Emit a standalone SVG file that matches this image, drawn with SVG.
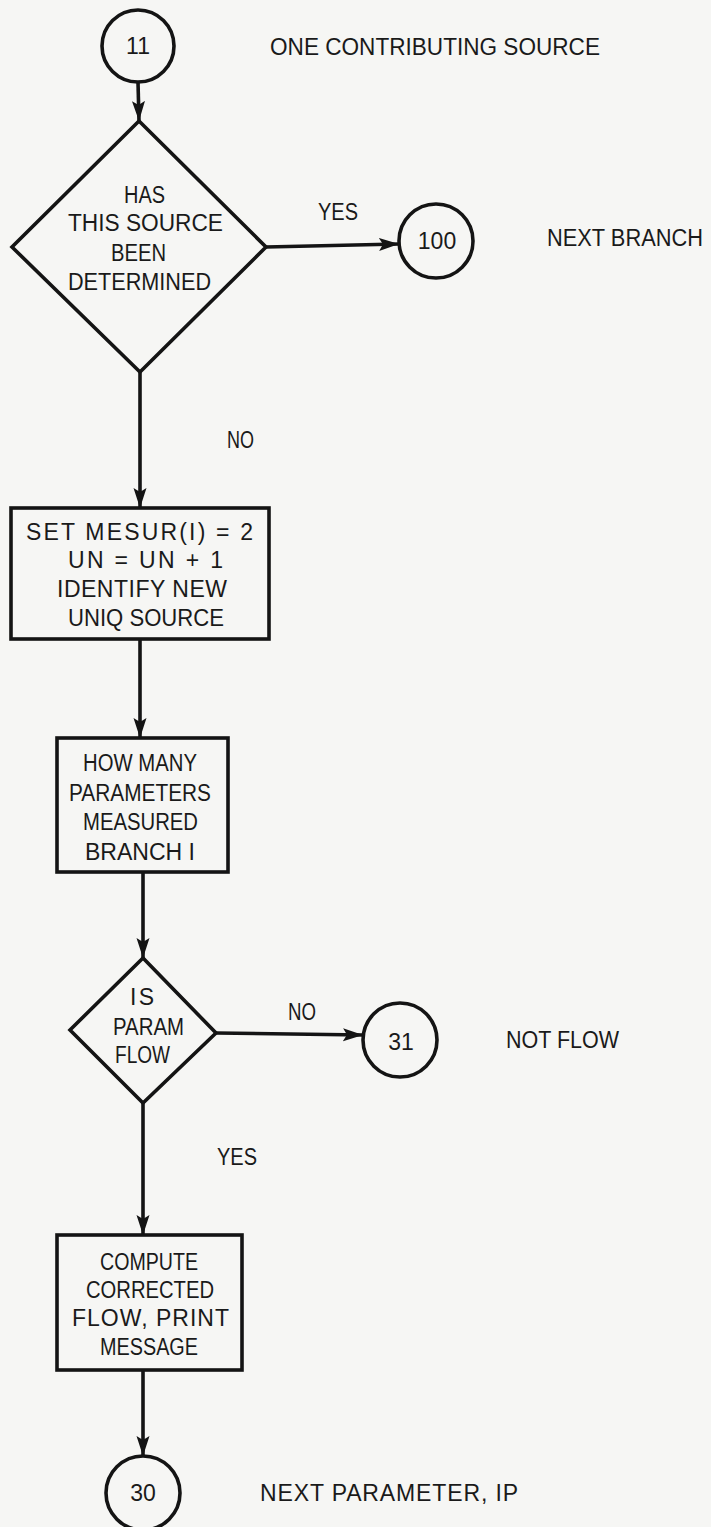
<svg xmlns="http://www.w3.org/2000/svg" width="711" height="1527" viewBox="0 0 711 1527">
<style>
.shape{fill:none;stroke:#141414;stroke-width:3.6;stroke-linejoin:miter}
.conn{fill:none;stroke:#141414;stroke-width:3.6}
text{font-family:"Liberation Sans",Arial,sans-serif;font-size:23px;fill:#1a1a1a}
</style>
<defs>
<marker id="ah" markerUnits="userSpaceOnUse" markerWidth="22" markerHeight="14" refX="20" refY="7" orient="auto">
<path d="M0,0.5 L20,7 L0,13.5 L4,7 z" fill="#141414"/>
</marker>
</defs>
<rect width="711" height="1527" fill="#f6f6f4"/>
<g id="connectors">
<line class="conn" x1="138" y1="82" x2="139" y2="121" marker-end="url(#ah)"/>
<line class="conn" x1="266" y1="247" x2="399" y2="244" marker-end="url(#ah)"/>
<line class="conn" x1="140" y1="372" x2="140" y2="508" marker-end="url(#ah)"/>
<line class="conn" x1="140" y1="639" x2="140" y2="738" marker-end="url(#ah)"/>
<line class="conn" x1="143" y1="872" x2="143" y2="958" marker-end="url(#ah)"/>
<line class="conn" x1="216" y1="1033" x2="363" y2="1035" marker-end="url(#ah)"/>
<line class="conn" x1="143" y1="1103" x2="143" y2="1235" marker-end="url(#ah)"/>
<line class="conn" x1="143" y1="1370" x2="143" y2="1456" marker-end="url(#ah)"/>
<text x="318" y="220" textLength="40" lengthAdjust="spacingAndGlyphs">YES</text>
<text x="227" y="448" textLength="27" lengthAdjust="spacingAndGlyphs">NO</text>
<text x="288" y="1020" textLength="28" lengthAdjust="spacingAndGlyphs">NO</text>
<text x="217" y="1165" textLength="40" lengthAdjust="spacingAndGlyphs">YES</text>
</g>
<g id="n11">
<circle class="shape" cx="138" cy="46" r="36"/>
<text x="138" y="54" text-anchor="middle">11</text>
<text x="270" y="55" textLength="330" lengthAdjust="spacingAndGlyphs">ONE CONTRIBUTING SOURCE</text>
</g>
<g id="d1">
<polygon class="shape" points="139,121 266,247 140,372 12,247"/>
<text x="124" y="203" textLength="41" lengthAdjust="spacingAndGlyphs">HAS</text>
<text x="68" y="231" textLength="155" lengthAdjust="spacingAndGlyphs">THIS SOURCE</text>
<text x="111" y="261" textLength="55" lengthAdjust="spacingAndGlyphs">BEEN</text>
<text x="68" y="290" textLength="143" lengthAdjust="spacingAndGlyphs">DETERMINED</text>
</g>
<g id="n100">
<circle class="shape" cx="436" cy="241" r="37"/>
<text x="437" y="249" text-anchor="middle">100</text>
<text x="547" y="246" textLength="156" lengthAdjust="spacingAndGlyphs">NEXT BRANCH</text>
</g>
<g id="b1">
<rect class="shape" x="11" y="508" width="258" height="131"/>
<text x="26" y="540" textLength="227">SET MESUR(I) = 2</text>
<text x="68" y="568" textLength="155">UN = UN + 1</text>
<text x="57" y="597" textLength="170">IDENTIFY NEW</text>
<text x="68" y="626" textLength="156" lengthAdjust="spacingAndGlyphs">UNIQ SOURCE</text>
</g>
<g id="b2">
<rect class="shape" x="57" y="738" width="171" height="134"/>
<text x="83" y="771" textLength="114" lengthAdjust="spacingAndGlyphs">HOW MANY</text>
<text x="69" y="801" textLength="142" lengthAdjust="spacingAndGlyphs">PARAMETERS</text>
<text x="83" y="830" textLength="115" lengthAdjust="spacingAndGlyphs">MEASURED</text>
<text x="85" y="860" textLength="110" lengthAdjust="spacingAndGlyphs">BRANCH I</text>
</g>
<g id="d2">
<polygon class="shape" points="143,958 216,1033 143,1103 70,1030"/>
<text x="130" y="1005" textLength="24">IS</text>
<text x="113" y="1035" textLength="71" lengthAdjust="spacingAndGlyphs">PARAM</text>
<text x="115" y="1063" textLength="55" lengthAdjust="spacingAndGlyphs">FLOW</text>
</g>
<g id="n31">
<circle class="shape" cx="400" cy="1040" r="37"/>
<text x="401" y="1050" text-anchor="middle">31</text>
<text x="506" y="1048" textLength="113" lengthAdjust="spacingAndGlyphs">NOT FLOW</text>
</g>
<g id="b3">
<rect class="shape" x="57" y="1235" width="185" height="135"/>
<text x="100" y="1270" textLength="98" lengthAdjust="spacingAndGlyphs">COMPUTE</text>
<text x="86" y="1298" textLength="128" lengthAdjust="spacingAndGlyphs">CORRECTED</text>
<text x="72" y="1326" textLength="157">FLOW, PRINT</text>
<text x="100" y="1355" textLength="98" lengthAdjust="spacingAndGlyphs">MESSAGE</text>
</g>
<g id="n30">
<circle class="shape" cx="143" cy="1493" r="37"/>
<text x="143" y="1501" text-anchor="middle">30</text>
<text x="260" y="1501" textLength="258">NEXT PARAMETER, IP</text>
</g>
</svg>
